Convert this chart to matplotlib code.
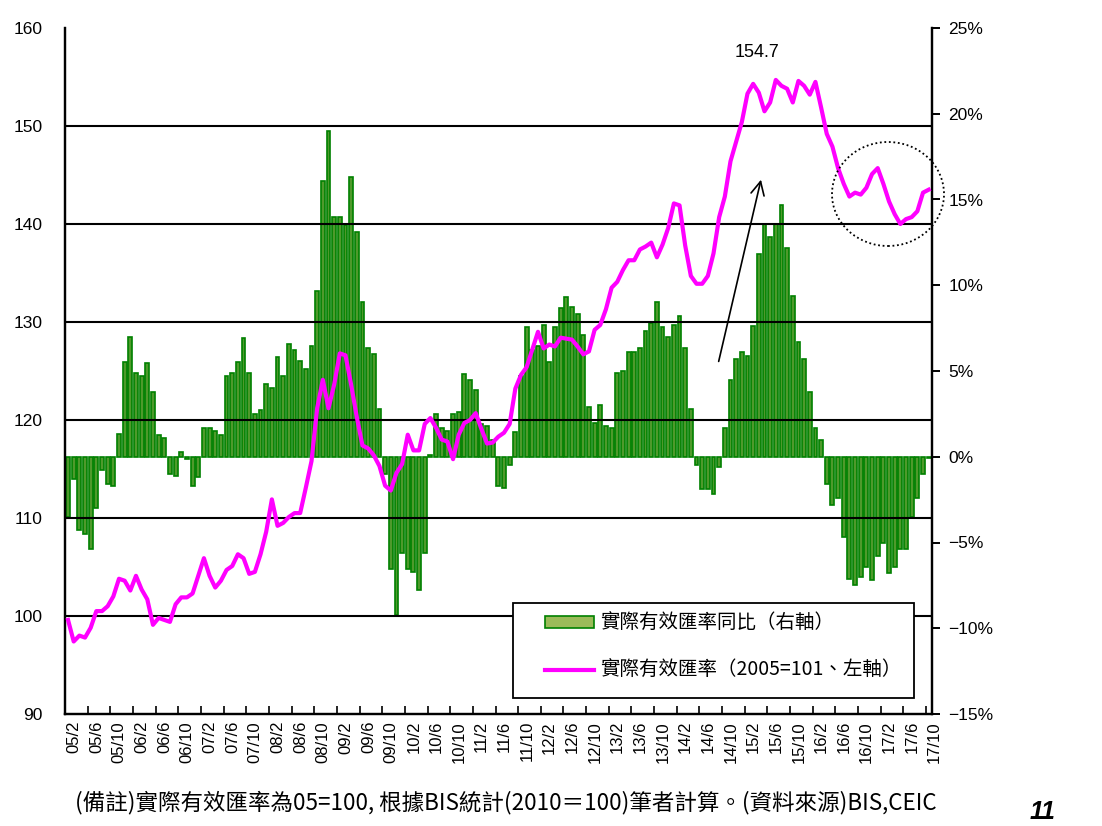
import matplotlib
matplotlib.use("Agg")
import matplotlib.pyplot as plt
import matplotlib.transforms as mtransforms
from matplotlib.patches import Ellipse, Patch, Rectangle
from matplotlib.lines import Line2D
import numpy as np

plt.rcParams['font.family'] = ['Liberation Sans', 'Noto Sans CJK TC', 'DejaVu Sans']
CJK = ['Noto Sans CJK TC', 'DejaVu Sans']

# monthly data, 2005/2 .. 2017/10
yoy_pct = [
    -3.5, -1.3, -4.3, -4.5, -5.4, -3.0, -0.8, -1.6, -1.7, 1.35, 5.55, 7.0,
    4.9, 4.7, 5.45, 3.8, 1.25, 1.1, -1.0, -1.1, 0.3, -0.15, -1.7, -1.2,
    1.7, 1.7, 1.5, 1.25, 4.7, 4.9, 5.55, 6.9, 4.9, 2.5, 2.7, 4.25,
    4.0, 5.8, 4.7, 6.55, 6.25, 5.6, 5.1, 6.45, 9.65, 16.1, 19.0, 14.0,
    14.0, 13.5, 16.3, 13.1, 9.0, 6.35, 6.0, 2.8, -1.0, -6.55, -9.25, -5.6,
    -6.55, -6.7, -7.75, -5.6, 0.1, 2.5, 1.7, 1.5, 2.5, 2.6, 4.8, 4.45,
    3.9, 1.9, 1.8, 1.0, -1.7, -1.8, -0.5, 1.45, 4.7, 7.55, 6.2, 6.45,
    7.7, 5.55, 7.55, 8.65, 9.3, 8.75, 8.35, 7.1, 2.9, 1.95, 3.0, 1.8,
    1.7, 4.9, 5.0, 6.1, 6.1, 6.35, 7.35, 7.8, 9.0, 7.55, 7.0, 7.7,
    8.2, 6.35, 2.8, -0.5, -1.9, -1.9, -2.2, -0.6, 1.7, 4.5, 5.7, 6.1,
    5.9, 7.6, 11.8, 13.57, 12.8, 13.57, 14.7, 12.2, 9.35, 6.7, 5.7, 3.8,
    1.7, 1.0, -1.6, -2.8, -2.4, -4.7, -7.1, -7.5, -7.0, -6.4, -7.2, -5.8,
    -5.0, -6.8, -6.45, -5.4, -5.35, -3.5, -2.4, -1.0, -0.1,
]
reer = [
    99.6, 97.4, 98.0, 97.8, 98.8, 100.5, 100.5, 101.0, 102.0, 103.8, 103.6, 102.6,
    104.1, 102.7, 101.7, 99.1, 99.8, 99.6, 99.4, 101.2, 101.9, 101.9, 102.3, 104.1,
    105.9, 104.1, 102.9, 103.6, 104.7, 105.1, 106.3, 105.9, 104.3, 104.5, 106.3, 108.6,
    111.9, 109.2, 109.5, 110.1, 110.5, 110.5, 113.1, 115.8, 121.2, 124.1, 121.2, 123.6,
    126.8, 126.6, 123.6, 120.3, 117.4, 117.1, 116.4, 115.3, 113.3, 112.8, 114.6, 115.5,
    118.5, 116.9, 116.9, 119.6, 120.2, 119.2, 118.0, 117.8, 116.0, 118.5, 119.7, 120.0,
    120.7, 119.1, 117.6, 117.7, 118.3, 118.7, 119.6, 123.2, 124.6, 125.4, 127.2, 129.0,
    127.3, 127.7, 127.5, 128.4, 128.3, 128.2, 127.5, 126.7, 127.0, 129.2, 129.7, 131.3,
    133.5, 134.1, 135.3, 136.3, 136.3, 137.4, 137.7, 138.1, 136.6, 137.9, 139.6, 142.1,
    141.9, 137.8, 134.7, 133.9, 133.9, 134.7, 137.0, 140.7, 142.8, 146.4, 148.4, 150.4,
    153.3, 154.3, 153.4, 151.5, 152.4, 154.7, 154.1, 153.8, 152.4, 154.6, 154.1, 153.2,
    154.5, 151.9, 149.2, 147.9, 145.7, 144.1, 142.8, 143.2, 143.0, 143.7, 145.1, 145.7,
    144.1, 142.3, 141.0, 140.0, 140.5, 140.7, 141.3, 143.2, 143.5,
]
month_labels = [
    "05/2", "05/6", "05/10", "06/2", "06/6", "06/10", "07/2", "07/6", "07/10",
    "08/2", "08/6", "08/10", "09/2", "09/6", "09/10", "10/2", "10/6", "10/10",
    "11/2", "11/6", "11/10", "12/2", "12/6", "12/10", "13/2", "13/6", "13/10",
    "14/2", "14/6", "14/10", "15/2", "15/6", "15/10", "16/2", "16/6", "16/10",
    "17/2", "17/6", "17/10",
]
left_ticks = [90, 100, 110, 120, 130, 140, 150, 160]
right_ticks = [-15, -10, -5, 0, 5, 10, 15, 20, 25]
peak_value = 154.7

W, H = 1102, 826
fig = plt.figure(figsize=(W / 100, H / 100), dpi=100)
ax = fig.add_axes([65.2 / W, 1 - 714 / H, (931.5 - 65.2) / W, (714 - 28) / H])
ax2 = ax.twinx()
ax.set_zorder(ax2.get_zorder() + 1)
ax.patch.set_visible(False)

n = len(reer)
x = np.arange(n)

# bars on right axis
ax2.bar(x, yoy_pct, width=0.68, color='#4f9a2c', edgecolor='#008000', linewidth=1.2)
ax2.set_ylim(-15, 25)
ax2.set_yticks(right_ticks)
ax2.set_yticklabels([f"{v}%".replace('-', '\u2212') for v in right_ticks])
ax2.tick_params(axis='y', direction='out', length=6, width=1.4, pad=6, labelsize=12.5)

# line on left axis
for v in left_ticks[1:-1]:
    ax.axhline(v, color='black', lw=1.5, zorder=1)
ax.plot(x, reer, color='#ff00ff', lw=3, zorder=3, solid_joinstyle='round')
ax.set_xlim(-0.5, n - 0.5)
ax.set_ylim(90, 160)
ax.set_yticks(left_ticks)
ax.tick_params(axis='y', length=0, pad=16, labelsize=12.5)

label_pos = np.arange(0, n, 4)
ax.set_xticks(label_pos)
ax.set_xticklabels(month_labels, rotation=90, fontsize=12)
ax.set_xticks(np.arange(-0.5, n, 4), minor=True)
ax.tick_params(axis='x', which='major', length=0, pad=5)
ax.tick_params(axis='x', which='minor', direction='in', length=6, width=1.2)
shift = mtransforms.ScaledTranslation(6 / 100, 0, fig.dpi_scale_trans)
for lab in ax.get_xticklabels():
    lab.set_transform(lab.get_transform() + shift)

for a in (ax, ax2):
    a.spines['top'].set_visible(False)
    for s in ('left', 'right', 'bottom'):
        a.spines[s].set_linewidth(1.6)
        a.spines[s].set_color('black')

# annotations
ax.text(121.6, 157.55, f"{peak_value}", ha='center', va='center', fontsize=13)
ax.annotate('', xy=(122.5, 144.8), xytext=(114.8, 125.7),
            arrowprops=dict(arrowstyle='->', lw=1.2, color='black', mutation_scale=24))
ell = Ellipse((888 / W, 1 - 194 / H), 112 / W, 104 / H, transform=fig.transFigure,
              fill=False, ls=(0, (1, 1.5)), lw=1.3, edgecolor='black', clip_on=False, zorder=6)
ax.add_artist(ell)

# legend
box = Rectangle((513 / W, 1 - 698 / H), (914 - 513) / W, (698 - 603) / H,
                transform=fig.transFigure, facecolor='white', edgecolor='black',
                lw=1.3, clip_on=False, zorder=7)
ax.add_artist(box)
handles = [Patch(facecolor='#9bbb59', edgecolor='#008000', lw=1.2),
           Line2D([], [], color='#ff00ff', lw=3)]
labels = ["實際有效匯率同比（右軸）", "實際有效匯率（2005=101、左軸）"]
leg = ax.legend(handles, labels, loc='upper left', frameon=False,
                bbox_to_anchor=(545 / W, 1 - 613 / H), bbox_transform=fig.transFigure,
                borderpad=0, borderaxespad=0, handlelength=2.5, handleheight=0.55,
                handletextpad=0.35, labelspacing=1.35,
                prop=dict(family=CJK, size=14))
leg.set_zorder(8)

fig.text(75 / W, 1 - 803 / H,
         "(備註)實際有效匯率為05=100, 根據BIS統計(2010＝100)筆者計算。(資料來源)BIS,CEIC",
         ha='left', va='center', fontsize=16.2, family=CJK)
fig.text(1030 / W, 1 - 824 / H, "11", fontsize=18, fontweight='bold',
         fontstyle='italic', va='bottom')

fig.savefig("out.png", dpi=100)
